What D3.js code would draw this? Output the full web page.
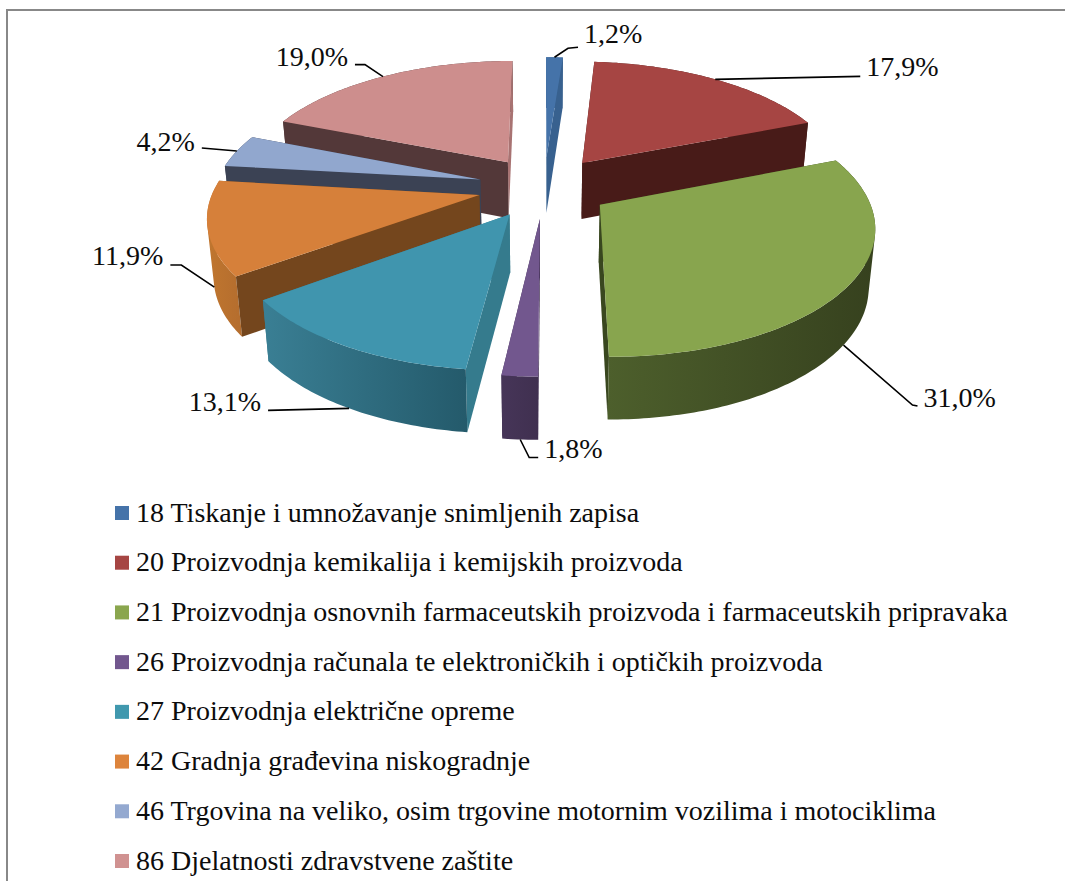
<!DOCTYPE html>
<html><head><meta charset="utf-8">
<script src="https://cdn.jsdelivr.net/npm/d3@7"></script>
<style>html,body{margin:0;padding:0;background:#fff;overflow:hidden}svg{display:block}text{font-family:"Liberation Serif",serif;fill:#0c0c0c}</style>
</head><body><svg id="c" width="1065" height="881"></svg>
<script>
const categories = [
 "18 Tiskanje i umnožavanje snimljenih zapisa",
 "20 Proizvodnja kemikalija i kemijskih proizvoda",
 "21 Proizvodnja osnovnih farmaceutskih proizvoda i farmaceutskih pripravaka",
 "26 Proizvodnja računala te elektroničkih i optičkih proizvoda",
 "27 Proizvodnja električne opreme",
 "42 Gradnja građevina niskogradnje",
 "46 Trgovina na veliko, osim trgovine motornim vozilima i motociklima",
 "86 Djelatnosti zdravstvene zaštite"];
const values = [1.2,17.9,31.0,1.8,13.1,11.9,4.2,19.0];
const valueLabels = ["1,2%","17,9%","31,0%","1,8%","13,1%","11,9%","4,2%","19,0%"];
const topColors  = ["#4573a9","#a64543","#88a54e","#72578e","#4095ae","#d6803a","#91a7ce","#cd8e8d"];
const faceColors = ["#38618f","#481b18","#39471f","#433254","#357b8d","#74461d","#3b4254","#533839"];
const endFaceColors = ["#38618f","#481b18","#39471f","#433254","#357b8d","#74461d","#3b4254","#a87372"];
const wallFrom = ["#38618f","#481b18","#4d5f2c","#463558","#3a7f94","#c0762f","#3b4254","#533839"];
const wallTo   = ["#38618f","#481b18","#36411e","#403050","#245a6b","#b46d2e","#3b4254","#533839"];
const legendSwatch = ["#4573a9","#a64543","#8aa64e","#72578e","#4098ae","#dd843c","#94a9d0","#d09291"];
// leader: [attach to wall?, elbow dx, elbow dy, end dx, end dy, label dy]
const leaders = [
 [0,13.5,-9,23.5,-10,-4],[0,145,-3,145,-3,0],[1,69,60,74,61,1],[1,9,18,18,18,0],
 [1,-81,2,-81,2,1],[1,-33,-22,-44,-22,0],[0,-35,-3,-35,-3,3],[0,-18,-12,-28,-12,1]];

const svg = d3.select("#c");
const defs = svg.append("defs");
// frame
svg.append("path").attr("d","M7,881V10H1065").attr("fill","none").attr("stroke","#888").attr("stroke-width",2);

// ground-plane perspective projection
const vx=544, vy=187, A=265, B=123.3, P=0.15, EXPLODE=0.25;
const sx=d3.scaleLinear().domain([0,1]).range([0,A]);
const sz=d3.scaleLinear().domain([0,1]).range([0,B]);
const proj=(X,Z)=>{const w=1-P*Z;return [vx+sx(X)/w, vy+sz(Z)/w];};
const depth=Z=>57+5*Z, SHRINK=0.98;
const lower=(X,Z)=>{const p=proj(X,Z);return [vx+(p[0]-vx)*SHRINK,p[1]+depth(Z)];};

const pie=d3.pie().sort(null).value(d=>d)(values);
const slices=pie.map((d,i)=>{
  const mid=(d.startAngle+d.endAngle)/2;
  const ex=EXPLODE*Math.sin(mid), ez=-EXPLODE*Math.cos(mid);
  const g=a=>[ex+Math.sin(a), ez-Math.cos(a)];
  return {i,d,mid,ex,ez,g,order:-Math.cos(mid)};
});
const line=d3.line();
const root=svg.append("g");
slices.slice().sort((a,b)=>a.order-b.order).forEach(s=>{
  const {i,d,mid,ex,ez,g}=s, n=Math.max(4,Math.ceil((d.endAngle-d.startAngle)*60));
  const as=d3.range(n+1).map(k=>d.startAngle+(d.endAngle-d.startAngle)*k/n);
  const G=root.append("g");
  const o1=g(d.startAngle), o2=g(d.endAngle);
  const topArc=as.map(a=>proj(...g(a))), botArc=as.map(a=>lower(...g(a)));
  const ext=d3.extent(topArc.concat(botArc),p=>p[0]);
  const grad=defs.append("linearGradient").attr("id","w"+i).attr("gradientUnits","userSpaceOnUse")
    .attr("x1",ext[0]).attr("x2",ext[1]).attr("y1",0).attr("y2",0);
  grad.append("stop").attr("offset",0).attr("stop-color",wallFrom[i]);
  grad.append("stop").attr("offset",1).attr("stop-color",wallTo[i]);
  // outer wall: one path of consistently wound quads, so it has no seams
  const wallPath=d3.range(n).map(k=>{
    const q=[topArc[k],topArc[k+1],botArc[k+1],botArc[k]];
    return line(d3.polygonArea(q)<0?q.slice().reverse():q)+"Z";
  }).join("");
  const faces=[
    {z:(ez+o1[1])/2,c:faceColors[i],d:line([proj(ex,ez),proj(...o1),lower(...o1),lower(ex,ez)])+"Z"},
    {z:(ez+o2[1])/2,c:endFaceColors[i],d:line([proj(ex,ez),proj(...o2),lower(...o2),lower(ex,ez)])+"Z"},
    {z:g(mid)[1],c:`url(#w${i})`,d:wallPath}
  ].sort((a,b)=>a.z-b.z);
  G.selectAll("path.q").data(faces).join("path").attr("class","q")
    .attr("d",q=>q.d).attr("fill",q=>q.c);
  G.append("path").attr("d",line([proj(ex,ez),...topArc])+"Z").attr("fill",topColors[i]);
});

// data label leaders
slices.forEach(s=>{
  const {i,mid,g}=s, L=leaders[i], m=g(mid);
  const a=L[0]?lower(...m):proj(...m);
  const pts=[a,[a[0]+L[1],a[1]+L[2]],[a[0]+L[3],a[1]+L[4]]];
  svg.append("path").attr("d",line(pts)).attr("fill","none").attr("stroke","#000").attr("stroke-width",1.6);
  const right=L[3]>0;
  svg.append("text").attr("x",a[0]+L[3]+(right?6:-7)).attr("y",a[1]+L[4]+L[5])
    .attr("text-anchor",right?"start":"end").attr("font-size",28).text(valueLabels[i]);
});

// legend
const ly=d3.scalePoint().domain(categories).range([513,861]);
const lg=svg.append("g").selectAll("g").data(categories).join("g").attr("transform",d=>`translate(0,${ly(d)})`);
lg.append("rect").attr("x",115).attr("y",-7).attr("width",14).attr("height",14).attr("fill",(d,i)=>legendSwatch[i]);
lg.append("text").attr("x",136).attr("y",8.5).attr("font-size",28).text(d=>d);
</script></body></html>
